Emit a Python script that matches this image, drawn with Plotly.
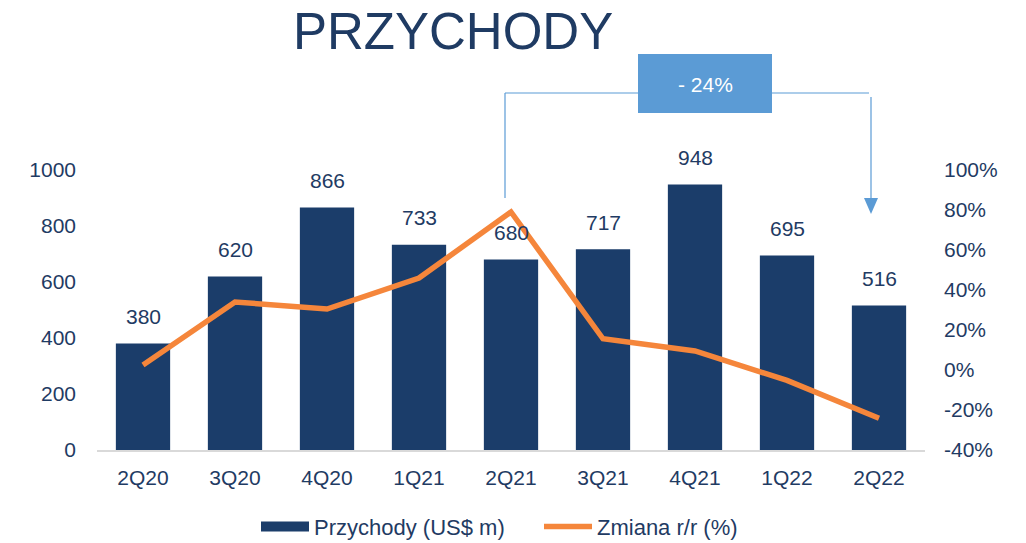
import plotly.graph_objects as go

categories = ["2Q20", "3Q20", "4Q20", "1Q21", "2Q21", "3Q21", "4Q21", "1Q22", "2Q22"]
revenue = [380, 620, 866, 733, 680, 717, 948, 695, 516]
yoy_change = [2.5, 34, 30.5, 46, 79, 15.6, 9.5, -5.2, -24.1]
left_ticks = [0, 200, 400, 600, 800, 1000]
right_ticks = [-40, -20, 0, 20, 40, 60, 80, 100]

DARK = "#1B3D6A"
TXT = "#1F3B63"
ORANGE = "#F5863B"
LBLUE = "#5B9BD5"
FONT = "Liberation Sans, Arial, sans-serif"

W, H = 1026, 543

fig = go.Figure()
fig.add_trace(go.Bar(x=categories, y=revenue, name="Przychody (US$ m)", showlegend=False,
                     marker=dict(color=DARK, line=dict(width=0)), yaxis="y"))
# legend proxy for the bar series (wide rectangle swatch)
fig.add_trace(go.Scatter(x=[None], y=[None], name="Przychody (US$ m)", mode="lines",
                         line=dict(color=DARK, width=12), yaxis="y"))
fig.add_trace(go.Scatter(x=categories, y=yoy_change, name="Zmiana r/r (%)",
                         mode="lines", line=dict(color=ORANGE, width=5.5), yaxis="y2"))

for c, v in zip(categories, revenue):
    fig.add_annotation(x=c, y=v, yref="y", text=str(v), showarrow=False,
                       yshift=27, font=dict(size=21, color=TXT, family=FONT))

# plot area in screen pixels
L, R = 97, 925
T, B = 170, 450
def px(p):
    return (p - L) / (R - L)
def py(p):
    return (B - p) / (B - T)

line = dict(color=LBLUE, width=1.2)
fig.add_shape(type="line", xref="paper", yref="paper", x0=px(505), x1=px(505), y0=py(198), y1=py(93), line=line)
fig.add_shape(type="line", xref="paper", yref="paper", x0=px(505), x1=px(640), y0=py(93), y1=py(93), line=line)
fig.add_shape(type="line", xref="paper", yref="paper", x0=px(770), x1=px(869), y0=py(93), y1=py(93), line=line)
fig.add_shape(type="line", xref="paper", yref="paper", x0=px(871), x1=px(871), y0=py(97), y1=py(200), line=line)
fig.add_shape(type="path", xref="paper", yref="paper",
              path=f"M {px(864)} {py(198)} L {px(878)} {py(198)} L {px(871)} {py(214)} Z",
              fillcolor=LBLUE, line=dict(width=0))
fig.add_shape(type="rect", xref="paper", yref="paper", x0=px(638), x1=px(772), y0=py(113), y1=py(54),
              fillcolor=LBLUE, line=dict(width=0))
fig.add_annotation(xref="paper", yref="paper", x=px(705), y=py(84), text="- 24%", showarrow=False,
                   xanchor="center", yanchor="middle",
                   font=dict(size=21, color="white", family=FONT))

fig.add_annotation(xref="paper", yref="paper", x=px(453), y=py(31), text="PRZYCHODY", showarrow=False,
                   xanchor="center", yanchor="middle",
                   font=dict(size=51, color=TXT, family=FONT))

fig.update_layout(
    width=W, height=H,
    margin=dict(l=L, r=W - R, t=T, b=H - B, autoexpand=False),
    paper_bgcolor="white", plot_bgcolor="white",
    font=dict(family=FONT, color=TXT, size=21),
    bargap=0.41,
    showlegend=True,
    legend=dict(orientation="h", x=px(256), xanchor="left", yref="container", y=0.03, yanchor="middle",
                font=dict(size=22, color=TXT), itemwidth=48, tracegroupgap=0, entrywidth=220),
    xaxis=dict(showgrid=False, showline=True, linecolor="#D9D9D9", linewidth=2,
               tickfont=dict(size=21, color=TXT), ticks="", ticklabelstandoff=8),
    yaxis=dict(range=[0, 1000], tickvals=left_ticks, showgrid=False, zeroline=False,
               showline=False, tickfont=dict(size=21, color=TXT), ticklabelstandoff=20),
    yaxis2=dict(range=[-40, 100], tickvals=right_ticks, ticktext=[f"{t}%" for t in right_ticks],
                overlaying="y", side="right", showgrid=False, zeroline=False, showline=False,
                tickfont=dict(size=21, color=TXT), ticklabelstandoff=18),
)

fig.write_html("out.html", config={"displayModeBar": False},
               post_script="document.body.style.margin='0';")
